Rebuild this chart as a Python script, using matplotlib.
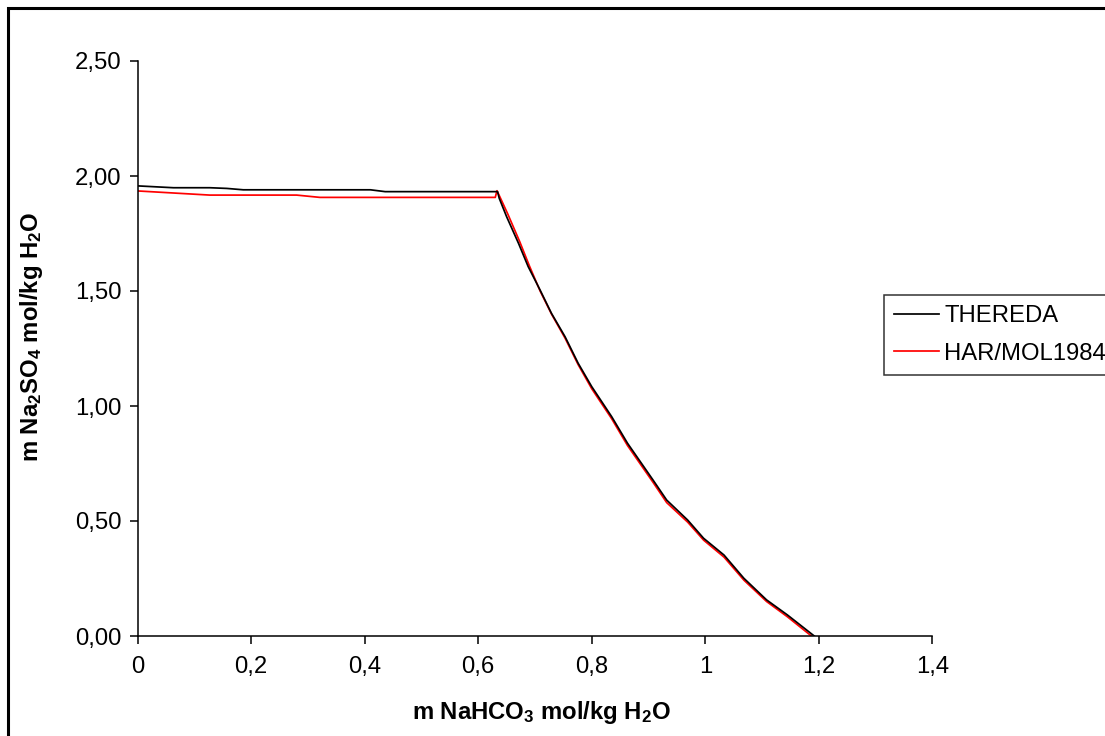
import matplotlib
matplotlib.use('Agg')
import matplotlib.pyplot as plt
from matplotlib.patches import Rectangle
from matplotlib.ticker import FuncFormatter, MultipleLocator

plt.rcParams['font.family'] = ['Liberation Sans', 'DejaVu Sans']
plt.rcParams['mathtext.fontset'] = 'custom'
plt.rcParams['mathtext.bf'] = 'Liberation Sans:bold'
plt.rcParams['mathtext.rm'] = 'Liberation Sans:bold'
plt.rcParams['mathtext.default'] = 'bf'

# THEREDA
x_thereda = [0, 0.063, 0.127, 0.157, 0.186, 0.339, 0.41, 0.436, 0.631, 0.634,
             0.637, 0.650, 0.671, 0.688, 0.709, 0.729, 0.753, 0.776, 0.800, 0.835,
             0.863, 0.908, 0.932, 0.969, 0.997, 1.033, 1.068, 1.108, 1.145, 1.192]
y_thereda = [1.957, 1.949, 1.949, 1.946, 1.94, 1.94, 1.94, 1.932, 1.932, 1.932,
             1.903, 1.823, 1.707, 1.606, 1.504, 1.403, 1.301, 1.186, 1.084, 0.954,
             0.838, 0.678, 0.591, 0.504, 0.425, 0.352, 0.251, 0.157, 0.091, 0.0]

# HAR/MOL1984
x_harmol = [0, 0.127, 0.28, 0.321, 0.630, 0.633, 0.638, 0.652, 0.673, 0.690,
            0.709, 0.729, 0.753, 0.776, 0.800, 0.835, 0.863, 0.908, 0.932, 0.969,
            0.997, 1.033, 1.068, 1.108, 1.145, 1.187]
y_harmol = [1.935, 1.917, 1.917, 1.907, 1.907, 1.936, 1.91, 1.835, 1.715, 1.61,
            1.50, 1.40, 1.295, 1.18, 1.075, 0.945, 0.828, 0.668, 0.58, 0.495,
            0.417, 0.343, 0.243, 0.150, 0.083, 0.0]

fs = 17.2

fig = plt.figure(figsize=(11.05, 7.36), dpi=100)
ax = fig.add_axes([137.7/1105, 1-636/736, (932.3-137.7)/1105, (636-61)/736])

ax.plot(x_thereda, y_thereda, color='black', lw=1.25, label='THEREDA', zorder=3)
ax.plot(x_harmol, y_harmol, color='red', lw=1.25, label='HAR/MOL1984', zorder=2)

ax.set_xlim(0, 1.4)
ax.set_ylim(0, 2.5)
ax.xaxis.set_major_locator(MultipleLocator(0.2))
ax.yaxis.set_major_locator(MultipleLocator(0.5))
ax.xaxis.set_major_formatter(FuncFormatter(lambda v, p: ('%g' % round(v, 2)).replace('.', ',')))
ax.yaxis.set_major_formatter(FuncFormatter(lambda v, p: ('%.2f' % v).replace('.', ',')))

for s in ['top', 'right']:
    ax.spines[s].set_visible(False)
for s in ['left', 'bottom']:
    ax.spines[s].set_linewidth(1.1)
ax.tick_params(axis='both', direction='out', length=5.5, width=1.1, labelsize=fs)
ax.tick_params(axis='y', pad=6)
ax.tick_params(axis='x', pad=9)

ax.set_xlabel(r'm NaHCO$_3$ mol/kg H$_2$O', fontsize=fs, fontweight='bold')
ax.set_ylabel(r'm Na$_2$SO$_4$ mol/kg H$_2$O', fontsize=fs, fontweight='bold')
ax.xaxis.set_label_coords((541-137.7)/794.6, (636-712)/575)
ax.xaxis.label.set_va('center')
ax.yaxis.set_label_coords((31-137.7)/794.6, 0.52)
ax.yaxis.label.set_va('center')

leg = fig.legend(loc='upper left', bbox_to_anchor=(884/1105, 1-295/736),
                 bbox_transform=fig.transFigure, borderaxespad=0, fontsize=fs,
                 frameon=True, fancybox=False, edgecolor='black', handlelength=1.9,
                 handletextpad=0.2, borderpad=0.42, labelspacing=0.65)
leg.get_frame().set_linewidth(1.1)

# outer chart border
fig.patches.append(Rectangle((7.5/1105, -0.1), 1.2, 1.1 - 7.5/736,
                             transform=fig.transFigure, fill=False,
                             edgecolor='black', lw=2.2, figure=fig))

fig.savefig('out.png', dpi=100)
